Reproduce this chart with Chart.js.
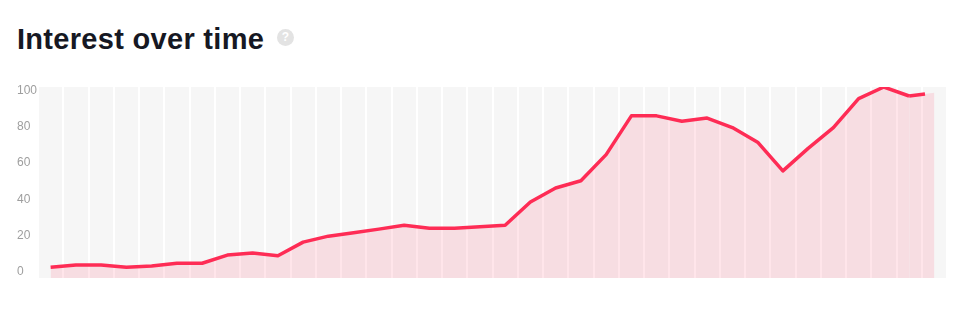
<!DOCTYPE html>
<html>
<head>
<meta charset="utf-8">
<script src="https://cdn.jsdelivr.net/npm/chart.js@4.4.1/dist/chart.umd.min.js"></script>
<style>
  html, body { margin: 0; padding: 0; background: #fff; }
  body { width: 962px; height: 315px; position: relative; overflow: hidden; font-family: "Liberation Sans", Arial, sans-serif; }
  .titulo { position: absolute; left: 17px; top: 25px; font-size: 29px; font-weight: bold; line-height: 1; color: #161823; letter-spacing: 0.3px; white-space: nowrap; }
  .ayuda { position: absolute; left: 277px; top: 29px; width: 17px; height: 17px; border-radius: 50%; background: #e3e3e3; color: #fff; font-size: 12px; font-weight: bold; text-align: center; line-height: 17px; }
  .grafico { position: absolute; left: 0; top: 0; }
</style>
</head>
<body>
<div class="titulo">Interest over time</div>
<div class="ayuda">?</div>
<canvas class="grafico" id="myChart" width="962" height="315"></canvas>
<script>
// 36 periodos, sin etiquetas visibles en el eje x
const periodos = ['P1', 'P2', 'P3', 'P4', 'P5', 'P6', 'P7', 'P8', 'P9', 'P10', 'P11', 'P12',
    'P13', 'P14', 'P15', 'P16', 'P17', 'P18', 'P19', 'P20', 'P21', 'P22', 'P23', 'P24',
    'P25', 'P26', 'P27', 'P28', 'P29', 'P30', 'P31', 'P32', 'P33', 'P34', 'P35', 'P36'];
const interes = [0, 1.3, 1.3, 0, 0.8, 2.3, 2.3, 6.8, 7.9, 6.4, 14, 17.3,
    19.2, 21.2, 23.3, 21.7, 21.7, 22.5, 23.3, 36.2, 44, 48, 62.5, 84,
    84, 81, 82.8, 77.5, 69.4, 53.5, 66, 77.5, 93.6, 100, 95, 96.8];
const ticksY = [0, 20, 40, 60, 80, 100];

const ultimo = interes.length - 1;

// fondo gris del area del grafico
const fondoArea = {
    id: 'fondoArea',
    beforeDraw(chart) {
        const { ctx, chartArea } = chart;
        ctx.save();
        ctx.fillStyle = '#f6f6f6';
        ctx.fillRect(chartArea.left, chartArea.top, chartArea.width, chartArea.height);
        ctx.restore();
    }
};

const ctx = document.getElementById('myChart').getContext('2d');

window.myChart = new Chart(ctx, {
    type: 'line',
    data: {
        labels: periodos,
        datasets: [{
            label: 'Interest',
            data: interes,
            borderColor: '#fe2c55',
            borderWidth: 3.5,
            borderJoinStyle: 'round',
            backgroundColor: 'rgba(254, 44, 85, 0.12)',
            fill: 'start',
            tension: 0,
            pointRadius: 0,
            // el ultimo tramo es parcial
            segment: {
                borderDash: c => c.p1DataIndex === ultimo ? [16, 60] : undefined
            }
        }]
    },
    options: {
        responsive: false,
        animation: false,
        layout: { padding: { top: 87, right: 15, bottom: 37, left: 17 } },
        plugins: {
            legend: { display: false },
            tooltip: { enabled: false }
        },
        scales: {
            x: {
                offset: true,
                grid: { offset: true, color: '#ffffff', lineWidth: 2, drawTicks: false },
                border: { display: false },
                ticks: { display: false }
            },
            y: {
                min: -5.9,
                max: 100,
                afterBuildTicks: axis => { axis.ticks = ticksY.map(v => ({ value: v })); },
                afterFit: axis => { axis.width = 21; },
                grid: { display: false },
                border: { display: false },
                ticks: {
                    color: '#9e9e9e',
                    font: { size: 12, family: 'Liberation Sans' },
                    crossAlign: 'far',
                    padding: 0,
                    labelOffset: 4
                }
            }
        }
    },
    plugins: [fondoArea]
});
</script>
</body>
</html>
